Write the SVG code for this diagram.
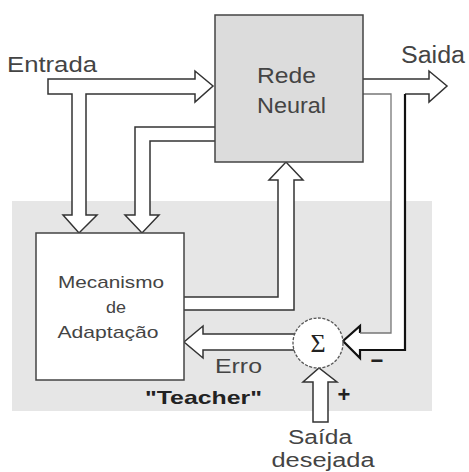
<svg xmlns="http://www.w3.org/2000/svg" width="469" height="472" viewBox="0 0 469 472">
<style>
.t{font-family:"Liberation Sans",Arial,sans-serif;fill:#444}
.arrow{fill:#fff;stroke:#333;stroke-width:1.5;stroke-linejoin:miter}
.box{stroke:#444;stroke-width:1.5}
</style>
<rect x="0" y="0" width="469" height="472" fill="#fff"/>
<g id="teacher">
<rect x="12" y="201" width="420" height="210" fill="#e6e6e6"/>
<text class="t" x="145" y="404" font-size="19" font-weight="bold" style="fill:#222" textLength="117" lengthAdjust="spacingAndGlyphs">"Teacher"</text>
</g>
<g id="connectors">
<path class="arrow" d="M48,79 H195 V71 L213,86 L195,102 V94 H86 V215 H97 L79,233 L63,215 H72 V94 H48 Z"/>
<path class="arrow" d="M215,127 H135 V215 H125 L142,233 L159,215 H150 V141 H215"/>
<path d="M363,79 H429 V71 L447,86 L429,102 V94 H405 V350 H360 V358 L343,341 L360,326 V333 H391 V94 H363" fill="#fff" stroke="none"/>
<path d="M363,79 H429 V71 L447,86 L429,102 V94 H405" fill="none" stroke="#333" stroke-width="1.5"/>
<path d="M405,94 V350 H360 V358 L343,341 L360,326 V333" fill="none" stroke="#111" stroke-width="2.2"/>
<path d="M360,333 H391 V94 H363" fill="none" stroke="#777" stroke-width="1.3"/>
<path class="arrow" d="M184,297 H278 V180 H269 L286,162 L303,180 H294 V310 H184"/>
<path class="arrow" d="M295,334 H203 V326 L184,342 L203,358 V350 H295"/>
<path class="arrow" d="M313,422 V382 H303 L319,368 L337,382 H328 V422 Z"/>
<text class="t" x="7" y="72" font-size="22" textLength="90" lengthAdjust="spacingAndGlyphs">Entrada</text>
<text class="t" x="401" y="63" font-size="23" textLength="64" lengthAdjust="spacingAndGlyphs">Saida</text>
<text class="t" x="215" y="373" font-size="21" textLength="47" lengthAdjust="spacingAndGlyphs">Erro</text>
<text class="t" x="377" y="368" font-size="22" font-weight="bold" text-anchor="middle" style="fill:#222">−</text>
<text class="t" x="344" y="402" font-size="22" font-weight="bold" text-anchor="middle" style="fill:#222">+</text>
<text class="t" x="320" y="444" font-size="20" text-anchor="middle" textLength="64" lengthAdjust="spacingAndGlyphs">Saída</text>
<text class="t" x="323" y="467" font-size="20" text-anchor="middle" textLength="103" lengthAdjust="spacingAndGlyphs">desejada</text>
</g>
<g id="rede-neural">
<rect class="box" x="215" y="15" width="148" height="147" fill="#dcdcdc"/>
<text class="t" x="257" y="83" font-size="22" textLength="59" lengthAdjust="spacingAndGlyphs">Rede</text>
<text class="t" x="257" y="113" font-size="22" textLength="69" lengthAdjust="spacingAndGlyphs">Neural</text>
</g>
<g id="mecanismo">
<rect class="box" x="36" y="233" width="148" height="147" fill="#fff"/>
<text class="t" x="111" y="288" font-size="17" text-anchor="middle" textLength="106" lengthAdjust="spacingAndGlyphs">Mecanismo</text>
<text class="t" x="116" y="313" font-size="17" text-anchor="middle" textLength="20" lengthAdjust="spacingAndGlyphs">de</text>
<text class="t" x="108" y="338" font-size="17" text-anchor="middle" textLength="101" lengthAdjust="spacingAndGlyphs">Adaptação</text>
</g>
<g id="somador">
<circle cx="318" cy="343" r="25" fill="#fff" stroke="#555" stroke-width="1.3" stroke-dasharray="3 1.5"/>
<text x="318" y="352" font-family="'Liberation Serif','Times New Roman',serif" font-size="26" fill="#222" text-anchor="middle">Σ</text>
</g>
</svg>
